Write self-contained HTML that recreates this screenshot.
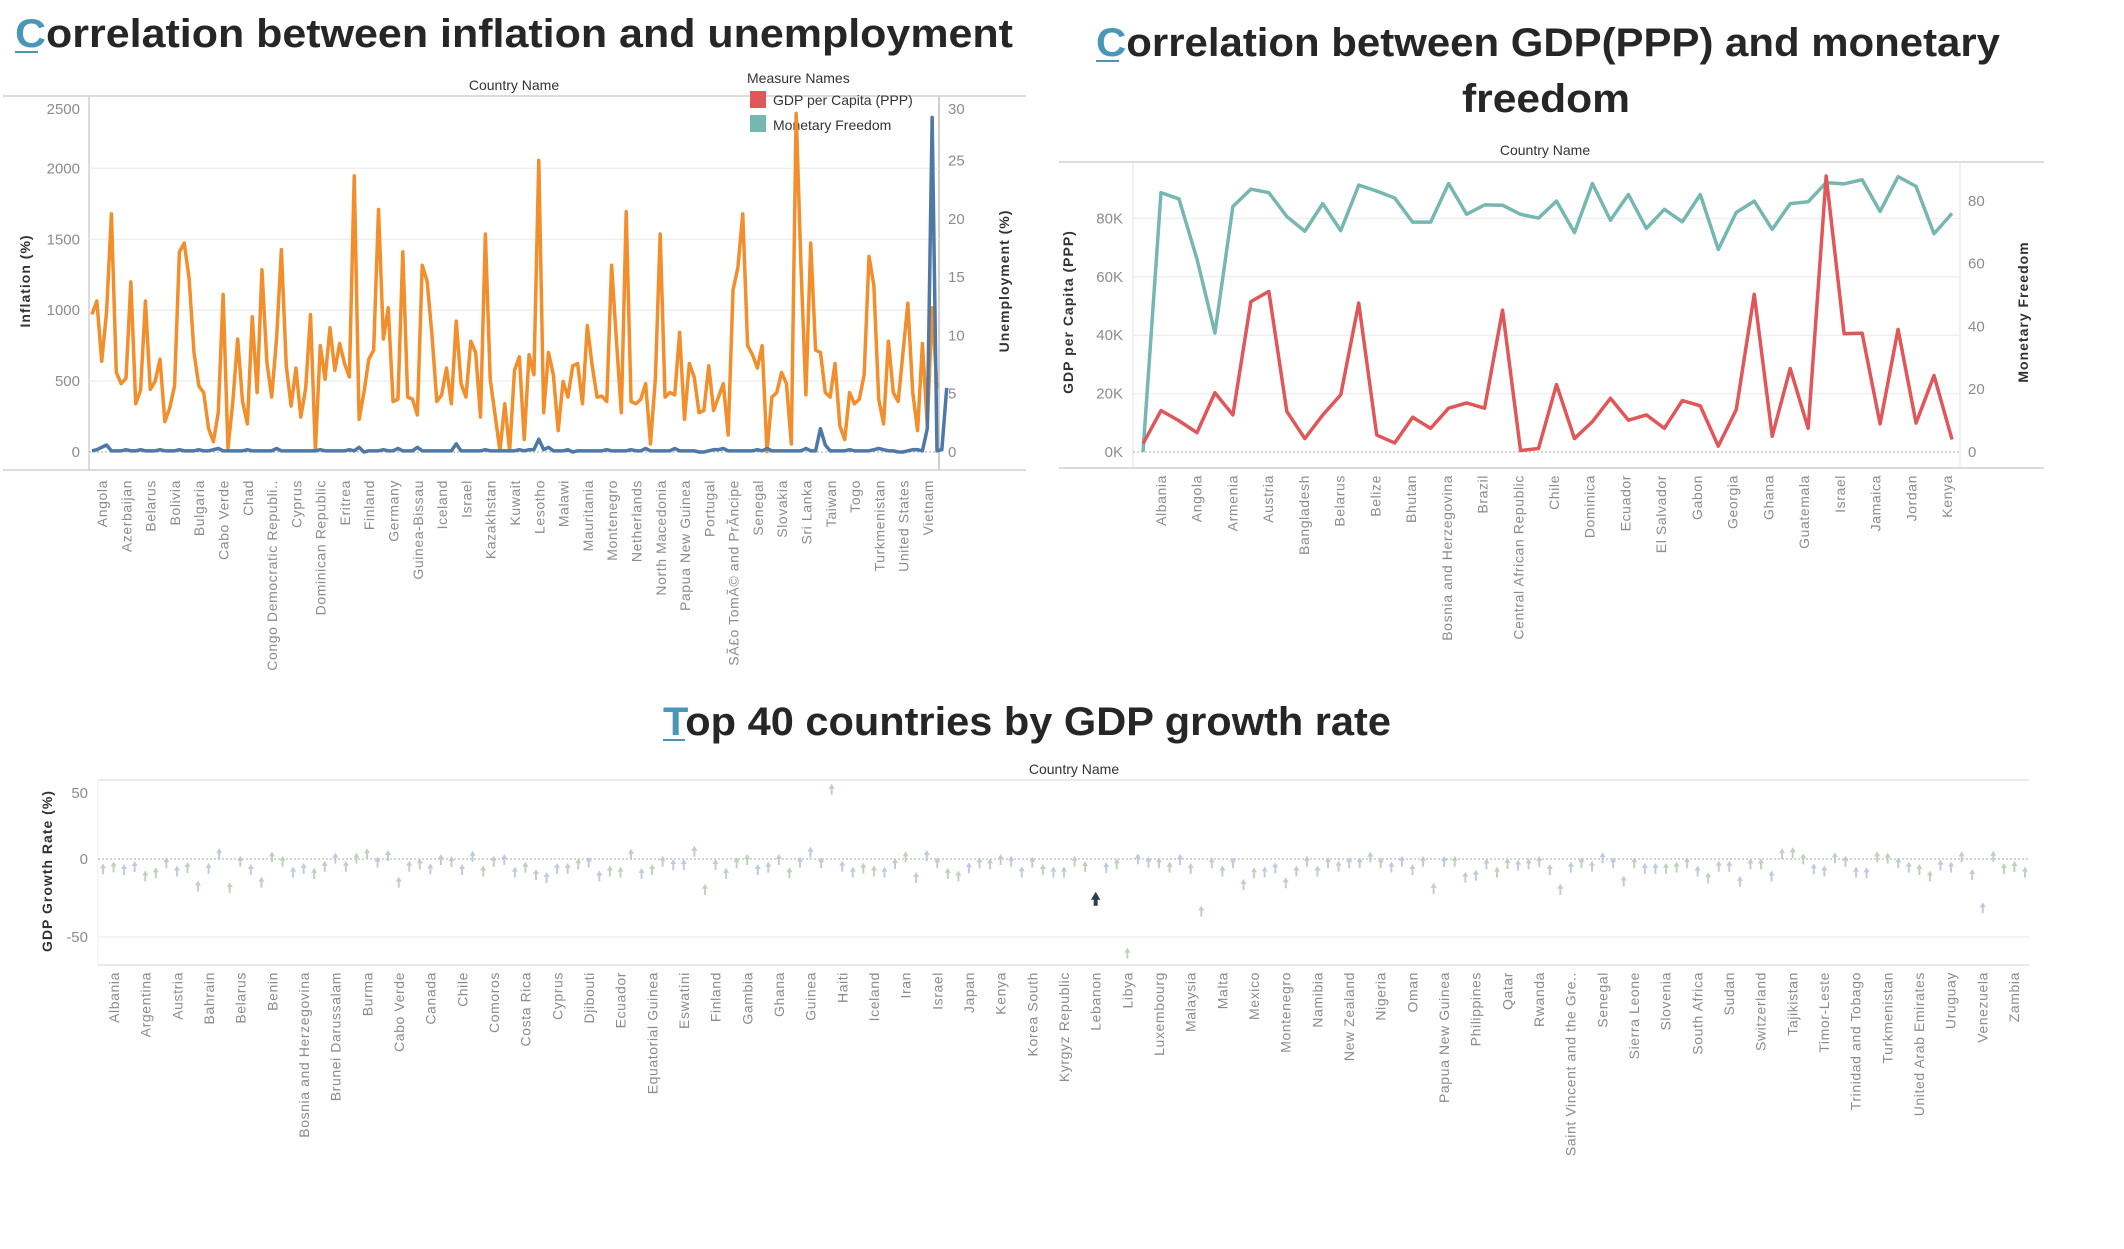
<!DOCTYPE html>
<html><head><meta charset="utf-8"><title>Dashboard</title>
<style>
html,body{margin:0;padding:0;background:#fff;}
svg{display:block;font-family:"Liberation Sans",sans-serif;}
.tick{fill:#8c8c8c;font-size:15px;}
.xl{fill:#8c8c8c;font-size:14px;letter-spacing:0.6px;}
.ytitle{fill:#333;font-size:14px;font-weight:bold;letter-spacing:1px;}
.hdr{fill:#333;font-size:14px;}
.title{fill:#262626;font-weight:bold;font-size:40px;}
</style></head>
<body>
<svg id="root" width="2124" height="1249" viewBox="0 0 2124 1249" xmlns="http://www.w3.org/2000/svg">
<!-- Titles -->
<text class="title" x="15" y="47" textLength="998" lengthAdjust="spacingAndGlyphs"><tspan fill="#4a96b8">C</tspan>orrelation between inflation and unemployment</text>
<line x1="15" y1="52" x2="38" y2="52" stroke="#4a96b8" stroke-width="2"/>
<text class="title" x="1096" y="56" textLength="904" lengthAdjust="spacingAndGlyphs"><tspan fill="#4a96b8">C</tspan>orrelation between GDP(PPP) and monetary</text>
<text class="title" x="1546" y="112" text-anchor="middle" textLength="168" lengthAdjust="spacingAndGlyphs">freedom</text>
<line x1="1096" y1="61" x2="1119" y2="61" stroke="#4a96b8" stroke-width="2"/>
<text class="title" x="663" y="735" textLength="728" lengthAdjust="spacingAndGlyphs"><tspan fill="#4a96b8">T</tspan>op 40 countries by GDP growth rate</text>
<line x1="663" y1="740" x2="685" y2="740" stroke="#4a96b8" stroke-width="2"/>

<!-- Chart 1 frame -->
<g id="c1">
<text class="hdr" x="514" y="90" text-anchor="middle">Country Name</text>
<line x1="3" y1="96" x2="1026" y2="96" stroke="#d0d0d0" stroke-width="1.5"/>
<line x1="3" y1="470" x2="1026" y2="470" stroke="#d0d0d0" stroke-width="1.5"/>
<line x1="89" y1="96" x2="89" y2="470" stroke="#d0d0d0" stroke-width="1.5"/>
<line x1="939" y1="96" x2="939" y2="470" stroke="#d0d0d0" stroke-width="2"/>
<text class="ytitle" transform="translate(30,281) rotate(-90)" text-anchor="middle">Inflation (%)</text>
<text class="ytitle" transform="translate(1009,281) rotate(-90)" text-anchor="middle">Unemployment (%)</text>
<text class="hdr" x="747" y="83">Measure Names</text>
<rect x="750" y="91" width="16" height="17" fill="#e15759"/>
<text class="hdr" x="773" y="105" fill="#555">GDP per Capita (PPP)</text>
<rect x="750" y="115" width="16" height="17" fill="#76b7b2"/>
<text class="hdr" x="773" y="130" fill="#555">Monetary Freedom</text>
</g>
<g id="c2">
<text class="hdr" x="1545" y="155" text-anchor="middle">Country Name</text>
<line x1="1059" y1="162" x2="2044" y2="162" stroke="#d0d0d0" stroke-width="1.5"/>
<line x1="1059" y1="468" x2="2044" y2="468" stroke="#d0d0d0" stroke-width="1.5"/>
<line x1="1133" y1="162" x2="1133" y2="468" stroke="#e0e0e0" stroke-width="1"/>
<line x1="1960" y1="162" x2="1960" y2="468" stroke="#e0e0e0" stroke-width="1"/>
<text class="ytitle" transform="translate(1073,312) rotate(-90)" text-anchor="middle">GDP per Capita (PPP)</text>
<text class="ytitle" transform="translate(2028,312) rotate(-90)" text-anchor="middle">Monetary Freedom</text>
</g>
<g id="c3">
<text class="hdr" x="1074" y="774" text-anchor="middle">Country Name</text>
<line x1="98" y1="780" x2="2029" y2="780" stroke="#e4e4e4" stroke-width="1.5"/>
<line x1="98" y1="965" x2="2029" y2="965" stroke="#e4e4e4" stroke-width="1.5"/>
<line x1="98" y1="780" x2="98" y2="965" stroke="#eeeeee" stroke-width="1"/>
<text class="ytitle" transform="translate(52,871) rotate(-90)" text-anchor="middle">GDP Growth Rate (%)</text>
</g>
</svg>
<script>
// ---------- Chart 1 data ----------
const c1Labels = ["Angola","Azerbaijan","Belarus","Bolivia","Bulgaria","Cabo Verde","Chad","Congo Democratic Republi..","Cyprus","Dominican Republic","Eritrea","Finland","Germany","Guinea-Bissau","Iceland","Israel","Kazakhstan","Kuwait","Lesotho","Malawi","Mauritania","Montenegro","Netherlands","North Macedonia","Papua New Guinea","Portugal","SÃ£o TomÃ© and PrÃncipe","Senegal","Slovakia","Sri Lanka","Taiwan","Togo","Turkmenistan","United States","Vietnam"];
const inflationTicks = [0,500,1000,1500,2000,2500];
const unempTicks = [0,5,10,15,20,25,30];
const inflation = [970,1065,640,986,1679,561,482,520,1200,340,435,1065,441,498,655,214,309,466,1411,1474,1222,702,466,419,167,72,277,1112,25,356,797,356,198,954,419,1285,639,387,797,1427,608,324,592,246,450,970,9,750,513,876,576,765,624,529,1947,230,419,655,718,1710,797,1017,356,372,1411,387,372,261,1317,1206,828,356,403,592,340,923,482,387,781,702,246,1537,513,261,9,340,9,576,671,88,687,545,2057,277,702,545,151,498,387,608,624,340,891,608,387,394,356,1317,781,277,1695,356,340,372,482,57,513,1537,387,419,403,844,230,624,529,277,293,608,293,387,482,120,1143,1301,1679,750,687,592,750,3,387,419,561,482,57,2388,1301,403,1474,718,702,419,387,624,183,88,419,340,372,545,1380,1175,372,198,781,419,356,702,1049,419,151,765,183,1017,450];
const unemployment = [0.1,0.2,0.4,0.6,0.1,0.1,0.1,0.2,0.1,0.1,0.2,0.1,0.1,0.1,0.2,0.1,0.1,0.1,0.2,0.1,0.1,0.1,0.2,0.1,0.1,0.2,0.3,0.1,0.1,0.1,0.1,0.1,0.2,0.1,0.1,0.1,0.1,0.1,0.3,0.1,0.1,0.1,0.1,0.1,0.1,0.1,0.1,0.2,0.1,0.1,0.1,0.1,0.1,0.2,0.1,0.4,0.0,0.1,0.1,0.1,0.2,0.1,0.1,0.3,0.1,0.1,0.1,0.4,0.1,0.1,0.1,0.1,0.1,0.1,0.1,0.7,0.1,0.1,0.1,0.1,0.1,0.2,0.1,0.1,0.1,0.1,0.1,0.1,0.2,0.1,0.2,0.2,1.1,0.2,0.4,0.1,0.1,0.1,0.2,0.0,0.1,0.1,0.1,0.1,0.1,0.1,0.2,0.1,0.1,0.1,0.1,0.2,0.1,0.1,0.3,0.1,0.1,0.1,0.1,0.1,0.3,0.1,0.1,0.1,0.1,0.0,0.0,0.1,0.2,0.2,0.3,0.1,0.1,0.1,0.1,0.1,0.1,0.2,0.1,0.3,0.1,0.1,0.1,0.1,0.1,0.1,0.1,0.3,0.1,0.1,2.0,0.6,0.1,0.1,0.1,0.1,0.2,0.1,0.1,0.1,0.1,0.2,0.3,0.2,0.1,0.1,0.0,0.0,0.1,0.2,0.2,0.1,2.0,28.7,0.1,0.2,5.5];

// ---------- Chart 2 data ----------
const c2Labels = ["Albania","Angola","Armenia","Austria","Bangladesh","Belarus","Belize","Bhutan","Bosnia and Herzegovina","Brazil","Central African Republic","Chile","Dominica","Ecuador","El Salvador","Gabon","Georgia","Ghana","Guatemala","Israel","Jamaica","Jordan","Kenya"];
const gdpTicks = [0,20,40,60,80];
const mfTicks = [0,20,40,60,80];
const gdpK = [2.8,14.2,10.7,6.6,20.3,12.7,51.5,55,13.9,4.6,12.7,19.6,51,5.8,3.1,11.9,8.1,15,16.8,15,48.6,0.5,1.2,23.1,4.6,10.4,18.4,10.9,12.7,8.1,17.6,15.8,2,14.5,54,5.4,28.6,8.1,94.5,40.5,40.7,9.6,42,9.9,26.2,4.3];
const monetaryFreedom = [0,82.6,80.6,61.5,37.9,78.2,83.7,82.6,75,70.3,79.1,70.5,85,83.1,80.9,73.2,73.2,85.5,75.7,78.7,78.6,75.7,74.5,79.9,69.9,85.5,73.8,82,71.2,77.3,73.3,82,64.5,76.3,79.9,70.9,79.1,79.7,85.8,85.4,86.7,76.6,87.7,84.6,69.5,76];

// ---------- Chart 3 data ----------
const c3Labels = ["Albania","Argentina","Austria","Bahrain","Belarus","Benin","Bosnia and Herzegovina","Brunei Darussalam","Burma","Cabo Verde","Canada","Chile","Comoros","Costa Rica","Cyprus","Djibouti","Ecuador","Equatorial Guinea","Eswatini","Finland","Gambia","Ghana","Guinea","Haiti","Iceland","Iran","Israel","Japan","Kenya","Korea South","Kyrgyz Republic","Lebanon","Libya","Luxembourg","Malaysia","Malta","Mexico","Montenegro","Namibia","New Zealand","Nigeria","Oman","Papua New Guinea","Philippines","Qatar","Rwanda","Saint Vincent and the Gre..","Senegal","Sierra Leone","Slovenia","South Africa","Sudan","Switzerland","Tajikistan","Timor-Leste","Trinidad and Tobago","Turkmenistan","United Arab Emirates","Uruguay","Venezuela","Zambia"];
const growthTicks = [50,0,-50];
const growth = [-6,-4.7,-6.4,-4.5,-10.6,-8.5,-2.1,-7.4,-5.1,-17,-5.7,3.8,-18.1,-1.1,-6.4,-14.5,1.7,-1.1,-8.1,-5.7,-8.9,-4.3,0.9,-4.3,0.9,3.6,-1.7,2.6,-14.5,-4.3,-2.8,-6,0,-1.3,-6.4,2.1,-7.4,-1.1,0,-8.1,-4.9,-9.6,-11.5,-5.7,-5.7,-2.8,-1.7,-10.6,-7.4,-8.1,3.4,-8.9,-6.4,-1.1,-3.2,-3.2,5.3,-19.1,-3.2,-8.9,-2.1,0,-6.4,-4.9,0,-8.5,-1.7,4.7,-2.1,45,-4.3,-8.1,-5.5,-7.4,-8.1,-2.6,1.7,-11.5,2.6,-2.1,-8.9,-10.6,-5.3,-2.1,-2.8,0,-1.1,-7.9,-1.7,-6.4,-8.1,
-8.1,-1.1,-4.5,-25.5,-5.1,-2.8,-60,0.4,-1.7,-2.1,-4.9,0,-5.7,-33,-2.1,-7.4,-2.1,-16,-8.5,-7.9,-5.3,-14.9,-7.4,-1.1,-7.4,-2.1,-4.3,-2.1,-2.1,1.5,-2.1,-4.9,-1.1,-6.4,-1.1,-18.5,-1.3,-1.1,-11.3,-10,-2.8,-8.1,-2.6,-3.6,-2.8,-1.3,-6.4,-19.1,-4.9,-2.1,-4.3,1.1,-2.1,-13.8,-2.1,-5.7,-5.7,-5.7,-4.9,-2.1,-7.4,-11.7,-4.3,-4.3,-14,-2.8,-2.8,-10.6,3.8,4.3,0.4,-6,-7.4,1.1,-1.1,-8.1,-8.5,1.7,0.9,-2.1,-4.9,-6.4,-10.6,-3.6,-4.9,1.7,-9.6,-30.9,2.1,-5.7,-4.5,-8.1];
const highlightIndex = 94; // Lebanon selected mark

const NS = "http://www.w3.org/2000/svg";
function mk(parent, tag, attrs){ const e=document.createElementNS(NS,tag); for(const k in attrs) e.setAttribute(k,attrs[k]); parent.appendChild(e); return e; }

// ----- Chart 1 axes -----
const g1 = document.getElementById('c1');
const x1 = i => 92 + i*(937-92)/(inflation.length-1);
const yInf = v => 452 - v*(70.9/500);
const yUn = v => 452 - v*(58.3/5);
const xl1 = i => 102 + i*(928-102)/(c1Labels.length-1);
inflationTicks.forEach(t=>{
  if(t>0 && t<2500){ const gl=mk(g1,'line',{x1:89,x2:939,y1:yInf(t),y2:yInf(t),stroke:'#efefef','stroke-width':1.5});
      }
  const tx=mk(g1,'text',{x:80,y:Math.max(yInf(t),109)+5,'text-anchor':'end',class:'tick'}); tx.textContent=t;
   
});
unempTicks.forEach(t=>{
  const tx=mk(g1,'text',{x:948,y:Math.max(yUn(t),109)+5,class:'tick'}); tx.textContent=t;
   
});
{ const z=mk(g1,'line',{x1:89,x2:939,y1:yInf(0),y2:yInf(0),stroke:'#aaa','stroke-dasharray':'2,2'});
    }
c1Labels.forEach((n,i)=>{
  const x=xl1(i);
  const tx=mk(g1,'text',{x:x,y:480,class:'xl','text-anchor':'end',transform:`rotate(-90 ${x} 480)`,dy:'5'}); tx.textContent=n;
   
});
{ const p=mk(g1,'polyline',{fill:'none',stroke:'#f28e2b','stroke-width':3.5,'stroke-linejoin':'round',points:inflation.map((v,i)=>x1(i)+','+yInf(v)).join(' ')});
    }
{ const p=mk(g1,'polyline',{fill:'none',stroke:'#4e79a7','stroke-width':3.5,'stroke-linejoin':'round',points:unemployment.map((v,i)=>x1(i)+','+yUn(v)).join(' ')});
    }

// ----- Chart 2 -----
const g2 = document.getElementById('c2');
const x2 = i => 1143 + i*(1952-1143)/(gdpK.length-1);
const yG = v => 452 - v*(58.4/20);
const yM = v => 452 - v*(62.8/20);
const xl2 = i => 1161 + i*(1947-1161)/(c2Labels.length-1);
gdpTicks.forEach(t=>{
  if(t>0){ const gl=mk(g2,'line',{x1:1133,x2:1960,y1:yG(t),y2:yG(t),stroke:'#efefef','stroke-width':1.5});
      }
  const tx=mk(g2,'text',{x:1123,y:yG(t)+5,'text-anchor':'end',class:'tick'}); tx.textContent=t+'K';
   
});
mfTicks.forEach(t=>{
  const tx=mk(g2,'text',{x:1968,y:yM(t)+5,class:'tick'}); tx.textContent=t;
   
});
{ const z=mk(g2,'line',{x1:1133,x2:1960,y1:yG(0),y2:yG(0),stroke:'#aaa','stroke-dasharray':'2,2'});
    }
c2Labels.forEach((n,i)=>{
  const x=xl2(i);
  const tx=mk(g2,'text',{x:x,y:475,class:'xl','text-anchor':'end',transform:`rotate(-90 ${x} 475)`,dy:'5'}); tx.textContent=n;
   
});
{ const p=mk(g2,'polyline',{fill:'none',stroke:'#76b7b2','stroke-width':3.5,'stroke-linejoin':'round',points:monetaryFreedom.map((v,i)=>x2(i)+','+yM(v)).join(' ')});
    }
{ const p=mk(g2,'polyline',{fill:'none',stroke:'#e15759','stroke-width':3.5,'stroke-linejoin':'round',points:gdpK.map((v,i)=>x2(i)+','+yG(v)).join(' ')});
    }

// ----- Chart 3 -----
const g3 = document.getElementById('c3');
const x3 = i => 103 + i*(2025-103)/(growth.length-1);
const yGr = v => 859 - v*(78/50);
const xl3 = i => 114 + i*(2014-114)/(c3Labels.length-1);
growthTicks.forEach(t=>{
  if(t===-50){ const gl=mk(g3,'line',{x1:98,x2:2029,y1:yGr(t),y2:yGr(t),stroke:'#efefef','stroke-width':1.5});
      }
  const tx=mk(g3,'text',{x:88,y:Math.max(yGr(t),793)+5,'text-anchor':'end',class:'tick'}); tx.textContent=t;
   
});
{ const z=mk(g3,'line',{x1:98,x2:2029,y1:yGr(0),y2:yGr(0),stroke:'#aaa','stroke-dasharray':'2,2'});
    }
c3Labels.forEach((n,i)=>{
  const x=xl3(i);
  const tx=mk(g3,'text',{x:x,y:972,class:'xl','text-anchor':'end',transform:`rotate(-90 ${x} 972)`,dy:'5'}); tx.textContent=n;
   
});
growth.forEach((v,i)=>{
  const x=x3(i), y=yGr(v);
  const hl = i===highlightIndex;
  const col = hl ? '#2c3e50' : (Math.floor(i/2)%2 ? '#b3c3d8' : '#b4cbb0');
  const a=mk(g3,'path',{d:`M${x} ${y-5} L${x-3} ${y} L${x-1} ${y} L${x-1} ${y+6} L${x+1} ${y+6} L${x+1} ${y} L${x+3} ${y} Z`,fill:col,opacity:hl?1:0.85});
  if(hl){ a.setAttribute('stroke','#2c3e50'); a.setAttribute('stroke-width','2'); }
  
  
});
</script>
</body></html>
